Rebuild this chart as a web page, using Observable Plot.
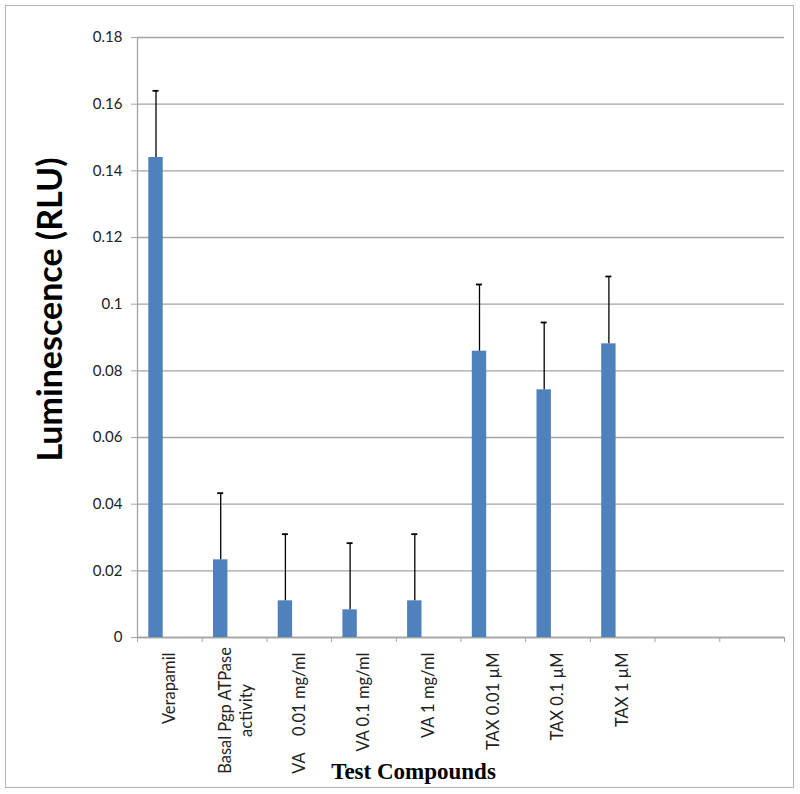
<!DOCTYPE html>
<html>
<head>
<meta charset="utf-8">
<script src="https://cdn.jsdelivr.net/npm/d3@7"></script>
<script src="https://cdn.jsdelivr.net/npm/@observablehq/plot@0.6"></script>
<style>
  html, body { margin: 0; padding: 0; background: #fff; }
  #wrap { position: relative; width: 800px; height: 794px; }
  #border { position: absolute; left: 5px; top: 5px; width: 789px; height: 783px; box-sizing: border-box; border: 1.5px solid #b4b4b4; pointer-events: none; }
</style>
</head>
<body>
<div id="wrap"><div id="border"></div></div>
<script>
// Data
const categories = ["Verapamil", "Basal Pgp ATPase\nactivity", "VA\u00a0\u00a0\u00a0\u00a00.01 mg/ml", "VA 0.1 mg/ml", "VA 1 mg/ml", "TAX 0.01 µM", "TAX 0.1 µM", "TAX 1 µM"];
const emptyCategories = ["empty1", "empty2"];
const values = [0.144, 0.0233, 0.011, 0.0083, 0.011, 0.0859, 0.0743, 0.0881];
const errors = [0.02, 0.02, 0.02, 0.02, 0.02, 0.02, 0.0202, 0.0202];
const yTicks = [0, 0.02, 0.04, 0.06, 0.08, 0.1, 0.12, 0.14, 0.16, 0.18];
const yTitle = "Luminescence (RLU)";
const xTitle = "Test Compounds";

const data = categories.map((name, i) => ({name, value: values[i], err: errors[i]}));
const domain = [...categories, ...emptyCategories];
const multiLine = categories.filter(c => c.includes("\n"));
const singleLine = categories.filter(c => !c.includes("\n"));

const W = 800, H = 794, ML = 137, MR = 16, MT = 37, MB = 157;
const bw = (W - ML - MR) / domain.length;
const barL = 11.3, barR = 25.7;          // bar position within its band (3-series cluster, 1st slot)
const barC = (barL + barR) / 2;
const errDx = barC - bw / 2;
const grid = "#a3a3a3";

const chart = Plot.plot({
  width: W, height: H,
  marginLeft: ML, marginRight: MR, marginTop: MT, marginBottom: MB,
  style: {fontFamily: "Lato, sans-serif", background: "white"},
  x: {domain, padding: 0, round: false, axis: null},
  y: {domain: [0, 0.18], axis: null},
  marks: [
    Plot.gridY(yTicks, {stroke: grid, strokeOpacity: 1, strokeWidth: 1.3}),
    Plot.ruleY([0], {stroke: grid, strokeWidth: 1.3}),
    Plot.ruleX([domain[0]], {x: d => d, dx: -bw / 2, stroke: grid, strokeWidth: 1.3}),
    Plot.axisY({ticks: yTicks, tickSize: 6, tickPadding: 9, stroke: grid, fontSize: 15, fill: "#222", label: null,
      tickFormat: d => String(+d.toFixed(2))}),
    // x tick marks at band boundaries
    Plot.axisX({ticks: domain, tickSize: 5, dx: -bw / 2, stroke: grid, tickFormat: () => "", label: null}),
    Plot.axisX({ticks: [domain[domain.length - 1]], tickSize: 5, dx: bw / 2, stroke: grid, tickFormat: () => "", label: null}),
    // x tick labels
    Plot.axisX({ticks: singleLine, tickSize: 0, tickPadding: 15, tickRotate: -90, fontSize: 16.5, fill: "#222", label: null}),
    Plot.axisX({ticks: multiLine, tickSize: 0, tickPadding: 73, tickRotate: -90, textAnchor: "middle", lineHeight: 1.3,
      fontSize: 16.5, fill: "#222", label: null}),
    Plot.barY(data, {x: "name", y: "value", fill: "#4f81bd", insetLeft: barL, insetRight: bw - barR}),
    Plot.ruleX(data, {x: "name", y1: "value", y2: d => d.value + d.err, dx: errDx, stroke: "black", strokeWidth: 1.3}),
    Plot.tickY(data, {x: "name", y: d => d.value + d.err, insetLeft: barC - 3, insetRight: bw - barC - 3, stroke: "black", strokeWidth: 1.8}),
    Plot.text([yTitle], {frameAnchor: "left", textAnchor: "middle", dx: 51 - ML, dy: 309 - (MT + (H - MT - MB) / 2), rotate: -90,
      fontSize: 34, fontWeight: "bold", fill: "black", fontFamily: "Lato, sans-serif"}),
    Plot.text([xTitle], {frameAnchor: "bottom", textAnchor: "middle", dx: 413 - (ML + (W - ML - MR) / 2), dy: 141,
      fontSize: 23, fontWeight: "bold", fill: "black", fontFamily: "'Liberation Serif', 'Times New Roman', serif"})
  ]
});
document.getElementById("wrap").prepend(chart);
</script>
</body>
</html>
